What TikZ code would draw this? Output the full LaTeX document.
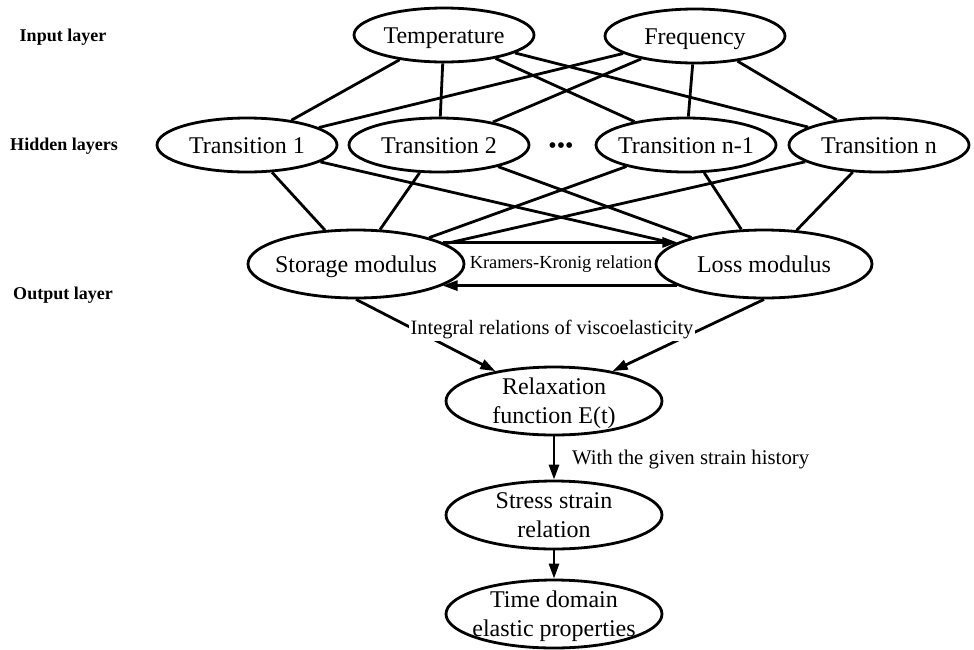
\documentclass[tikz,border=0pt]{standalone}
\usepackage{fontspec}
\setmainfont{Liberation Serif}
\usetikzlibrary{shapes.geometric,arrows.meta}
\newcommand{\layername}[3]{\node[font=\fontsize{9}{11}\selectfont\bfseries] (#1) at (#2) {#3}}

\begin{document}
\begin{tikzpicture}[x=0.5pt,y=-0.5pt,line width=1.4pt,
	unit/.style={draw,ellipse,inner sep=-6pt,text height=9pt,text depth=1pt,minimum width=90pt,minimum height=27pt,font=\fontsize{12}{14.5}\selectfont},
	bigunit/.style={unit,minimum width=108pt,minimum height=34pt,align=center},
	twounit/.style={bigunit,text height=23.5pt},
	arr/.style={-{Triangle[length=7.5pt,width=5pt]}}]
	\useasboundingbox (0,0) rectangle (974,649);
		\layername{inl}{63,37}{Input layer};
		\layername{hdl}{64,146}{Hidden layers};
		\layername{outl}{63,295}{Output layer};
	\node[unit] (temp) at (444,35) {Temperature};
	\node[unit] (freq) at (695,36) {Frequency};
	\node[unit] (tr1) at (247,145) {Transition 1};
	\node[unit] (tr2) at (439,145) {Transition 2};
	\node (dots) at (561,148) {\fontsize{12}{15}\selectfont\textbullet\textbullet\textbullet};
	\node[unit] (trm) at (686,145) {Transition n-1};
	\node[unit] (trn) at (879,145) {Transition n};
	\node[bigunit] (sto) at (356,264) {Storage modulus};
	\node[bigunit] (los) at (764,264) {Loss modulus};
	\node[twounit] (rel) at (554,401) {Relaxation\\function E(t)};
	\node[twounit] (ssr) at (554,515) {Stress strain\\relation};
	\node[twounit] (tdp) at (554,614) {Time domain\\elastic properties};
		\draw (temp) -- (tr1);
		\draw (temp) -- (tr2);
		\draw (temp) -- (trm);
		\draw (temp) -- (trn);
		\draw (freq) -- (tr1);
		\draw (freq) -- (tr2);
		\draw (freq) -- (trm);
		\draw (freq) -- (trn);
		\draw (tr1) -- (sto);
		\draw (tr1) -- (los);
		\draw (tr2) -- (sto);
		\draw (tr2) -- (los);
		\draw (trm) -- (sto);
		\draw (trm) -- (los);
		\draw (trn) -- (sto);
		\draw (trn) -- (los);
			\draw[arr] (sto.14) -- (los.166);
			\draw[arr] (los.-166) -- (sto.-14);
	\node[font=\fontsize{9.2}{11}\selectfont] (kk) at (561,264) {Kramers-Kronig relation};
			\draw[arr] (sto.south) -- (rel.153);
			\draw[arr] (los.south) -- (rel.27);
	\node[fill=white,inner sep=1pt,font=\fontsize{10.2}{12}\selectfont] (intg) at (552,330) {Integral relations of viscoelasticity};
			\draw[arr] (rel) -- (ssr);
			\draw[arr] (ssr) -- (tdp);
	\node[anchor=west,font=\fontsize{10.4}{12}\selectfont] (hist) at (564,460) {With the given strain history};
\end{tikzpicture}
\end{document}
